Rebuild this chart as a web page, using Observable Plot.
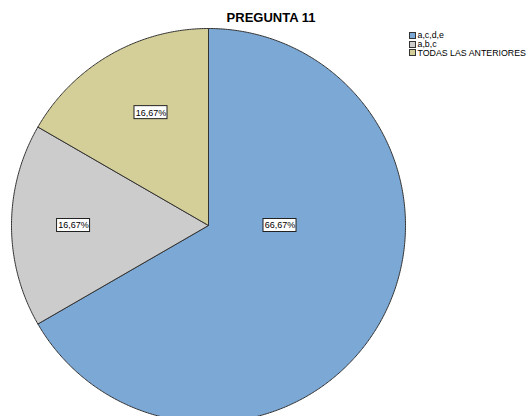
<!DOCTYPE html>
<html>
<head>
<meta charset="utf-8">
<script src="https://cdn.jsdelivr.net/npm/d3@7"></script>
<script src="https://cdn.jsdelivr.net/npm/@observablehq/plot@0.6"></script>
<style>
  html, body { margin: 0; padding: 0; background: #fff; overflow: hidden; }
  #wrap { position: relative; width: 528px; height: 416px; font-family: "Liberation Sans", Arial, sans-serif; }
  #legend { position: absolute; left: 409px; top: 31px; font-size: 8.8px; color: #000; }
  .row { display: flex; align-items: center; height: 8.7px; white-space: nowrap; }
  .sw { width: 5px; height: 5px; border: 1px solid #333; margin-right: 1.5px; }
</style>
</head>
<body>
<div id="wrap"><div id="legend"></div></div>
<script>
const title = "PREGUNTA 11";
const categories = ["a,c,d,e", "a,b,c", "TODAS LAS ANTERIORES"];
const counts = [4, 1, 1];
const colors = ["#7BA8D5", "#CCCCCC", "#D4CE98"];

// label placement per slice (angle in degrees clockwise from 12 o'clock, fraction of radius)
const labelPlacement = [[90, 0.363], [270, 0.685], [333, 0.643]];

const rows = categories.map((c, i) => ({key: c, count: counts[i]}));
const total = d3.sum(counts);
const arcs = d3.pie().sort(null).value(d => d.count)(rows);

const pts = [];
arcs.forEach(a => {
  const key = a.data.key;
  pts.push({key, x: 0, y: 0});
  const n = Math.max(2, Math.ceil((a.endAngle - a.startAngle) / (Math.PI / 360)));
  for (let k = 0; k <= n; k++) {
    const t = a.startAngle + (a.endAngle - a.startAngle) * k / n;
    pts.push({key, x: Math.sin(t), y: Math.cos(t)});
  }
  pts.push({key, x: 0, y: 0});
});

const fmt = v => (v / total * 100).toFixed(2).replace(".", ",") + "%";
const labels = arcs.map((a, i) => {
  const [deg, r] = labelPlacement[i];
  const t = deg * Math.PI / 180;
  return {x: r * Math.sin(t), y: r * Math.cos(t), text: fmt(a.data.count)};
});
const hw = 16.5 / 197, hh = 6.5 / 197;

const chart = Plot.plot({
  width: 528,
  height: 416,
  margin: 0,
  style: {fontFamily: '"Liberation Sans", Arial, sans-serif', background: "transparent"},
  x: {domain: [-1, 1], range: [11, 405], axis: null},
  y: {domain: [-1, 1], range: [422, 28], axis: null},
  color: {domain: categories, range: colors},
  marks: [
    Plot.line(pts, {x: "x", y: "y", z: "key", fill: "key", stroke: "#333", strokeWidth: 1, curve: "linear", strokeLinejoin: "miter"}),
    Plot.rect(labels, {x1: d => d.x - hw, x2: d => d.x + hw, y1: d => d.y - hh, y2: d => d.y + hh, fill: "white", stroke: "#222", strokeWidth: 1}),
    Plot.text(labels, {x: "x", y: "y", text: "text", fontSize: 9, fill: "black"}),
    Plot.text([title], {frameAnchor: "top", lineAnchor: "top", dx: 6.5, dy: 12, fontSize: 13, fontWeight: "bold", fill: "black"})
  ]
});
document.getElementById("wrap").prepend(chart);

const legend = document.getElementById("legend");
categories.forEach((c, i) => {
  const row = document.createElement("div");
  row.className = "row";
  const sw = document.createElement("span");
  sw.className = "sw";
  sw.style.background = colors[i];
  const tx = document.createElement("span");
  tx.textContent = c;
  row.append(sw, tx);
  legend.append(row);
});
</script>
</body>
</html>
